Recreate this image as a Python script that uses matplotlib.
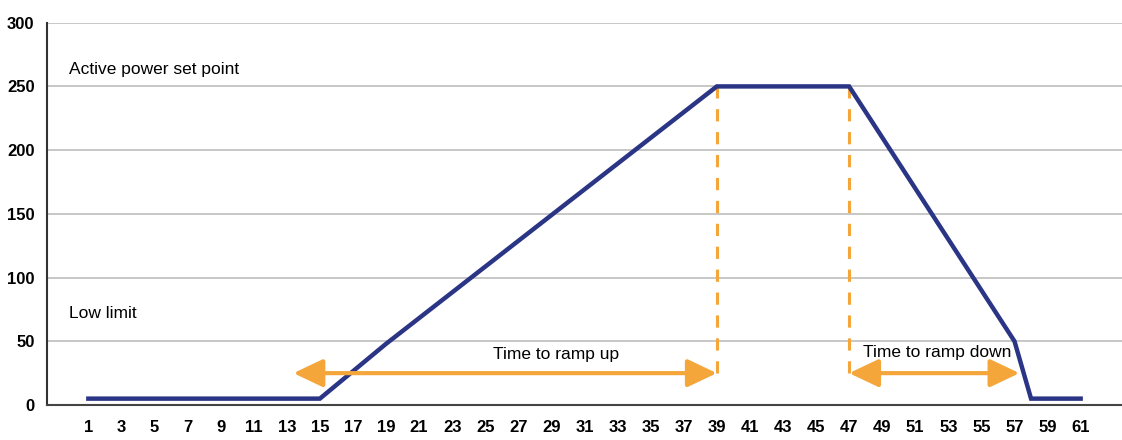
import matplotlib
matplotlib.use("Agg")
import matplotlib.pyplot as plt
from matplotlib.patches import FancyArrowPatch

# ---- data ----
time_points = [1, 15, 19, 39, 47, 57, 58, 61]
power_values = [5, 5, 48, 250, 250, 50, 5, 5]
x_ticks = list(range(1, 62, 2))
y_ticks = [0, 50, 100, 150, 200, 250, 300]
ramp_up_span = [13.4, 39]
ramp_down_span = [47, 57.3]
arrow_level = 25
dashed_x = [39, 47]
dashed_top = 250

plt.rcParams['font.family'] = ['Liberation Sans', 'DejaVu Sans']

navy = '#2B3585'
orange = '#F5A63A'

fig = plt.figure(figsize=(11.22, 4.4), dpi=100)
ax = fig.add_axes([47/1122, 35/440, 1 - 47/1122, (405-22.7)/440])

ax.set_xlim(-1.5, 63.5)
ax.set_ylim(0, 300)
ax.set_yticks(y_ticks)
ax.set_xticks(x_ticks)
ax.set_xticklabels([str(t) for t in x_ticks], fontweight='bold', fontsize=12)
ax.set_yticklabels([str(t) for t in y_ticks], fontweight='bold', fontsize=12)
ax.tick_params(axis='both', length=0)
ax.tick_params(axis='x', pad=11)
ax.tick_params(axis='y', pad=9)
ax.grid(axis='y', color='#BDBDBD', linewidth=1.2)
ax.set_axisbelow(True)
for s in ['top', 'right']:
    ax.spines[s].set_visible(False)
ax.spines['left'].set_color('#333333')
ax.spines['bottom'].set_color('#444444')
ax.spines['left'].set_linewidth(1.5)
ax.spines['bottom'].set_linewidth(1.5)

# dashed verticals
for xd in dashed_x:
    ax.plot([xd, xd], [arrow_level, dashed_top], color=orange, lw=2.2,
            linestyle=(0, (4, 3.5)), zorder=2)

# main line
ax.plot(time_points, power_values, color=navy, lw=3.2, solid_joinstyle='miter', zorder=3)

# arrows
for span in (ramp_up_span, ramp_down_span):
    arr = FancyArrowPatch((span[0], arrow_level), (span[1], arrow_level),
                          arrowstyle='<|-|>,head_length=2.0,head_width=0.95',
                          mutation_scale=9, color=orange, lw=3, zorder=4,
                          shrinkA=0, shrinkB=0)
    ax.add_patch(arr)

ax.text(29.3, 40, 'Time to ramp up', ha='center', va='center', fontsize=12.5)
ax.text(52.3, 41, 'Time to ramp down', ha='center', va='center', fontsize=12.5)
ax.text(-0.2, 263, 'Active power set point', ha='left', va='center', fontsize=12.5)
ax.text(-0.2, 72, 'Low limit', ha='left', va='center', fontsize=12.5)

fig.savefig('out.png', dpi=100)
